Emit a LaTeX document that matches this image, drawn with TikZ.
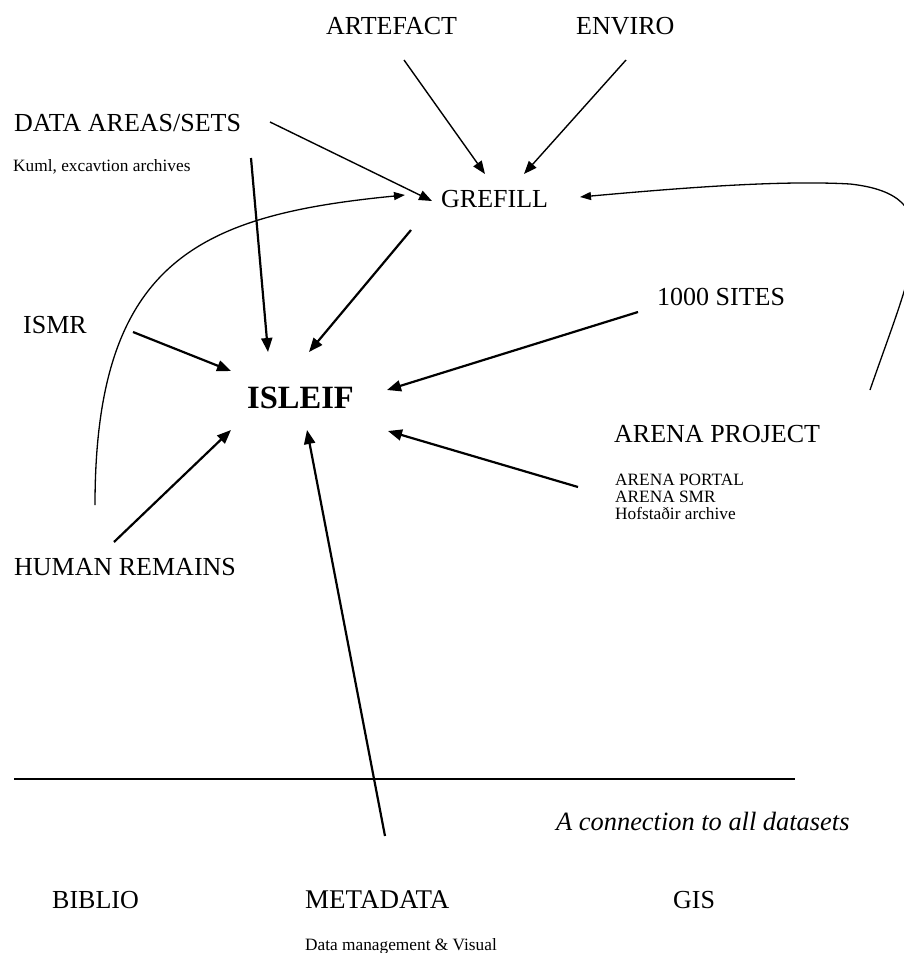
\documentclass[tikz,border=0pt]{standalone}
\usepackage{fontspec}
\setmainfont{Liberation Serif}
\usetikzlibrary{arrows.meta}
\tikzset{
  lbl/.style={inner sep=0pt, anchor=base west, font=\fontsize{26}{30}\selectfont},
  sml/.style={inner sep=0pt, anchor=base west, font=\fontsize{17.3}{19}\selectfont},
  bigarr/.style={line width=2.2pt, -{Triangle[length=14pt,width=11pt]}},
  midarr/.style={line width=1.4pt, -{Triangle[length=13pt,width=10pt]}},
  curvearr/.style={line width=1.3pt, -{Triangle[length=11pt,width=8pt]}}
}
\begin{document}
\begin{tikzpicture}[x=1pt,y=-1pt]
\useasboundingbox (0,0) rectangle (904,953);
% labels
\node[lbl] (artefact) at (326,34) {ARTEFACT};
\node[lbl] (enviro) at (576,34) {ENVIRO};
\node[lbl] (data) at (14,131) {DATA AREAS/SETS};
\node[sml] (kuml) at (13,171) {Kuml, excavtion archives};
\node[lbl] (grefill) at (441,207) {GREFILL};
\node[lbl] (sites) at (657,305) {1000 SITES};
\node[lbl] (ismr) at (23,333) {ISMR};
\node[inner sep=0pt, anchor=base west, font=\fontsize{32.5}{36}\selectfont\bfseries] (isleif) at (247,408) {ISLEIF};
\node[lbl] (arena) at (614,442) {ARENA PROJECT};
\node[sml] (portal) at (615,485) {ARENA PORTAL};
\node[sml] (asmr) at (615,502) {ARENA SMR};
\node[sml] (hof) at (615,519) {Hofstaðir archive};
\node[lbl] (human) at (14,575) {HUMAN REMAINS};
\node[lbl, font=\fontsize{26.4}{30}\selectfont\itshape] (conn) at (556,830) {A connection to all datasets};
\node[lbl] (biblio) at (52,908) {BIBLIO};
\node[lbl, font=\fontsize{27}{30}\selectfont] (meta) at (305,908) {METADATA};
\node[lbl] (gis) at (673,908) {GIS};
\node[sml] (dm) at (305,950) {Data management \& Visual};
% separator line
\coordinate (lineL) at (14,779);
\coordinate (lineR) at (795,779);
\draw[line width=1.3pt] (lineL) -- (lineR);
% arrow end points
\coordinate (dataE) at (270,122);
\coordinate (grefW) at (432,201);
\coordinate (artS) at (404,60);
\coordinate (grefNW) at (485,174);
\coordinate (envS) at (626,60);
\coordinate (grefNE) at (524,174);
\coordinate (dataS) at (251,158);
\coordinate (isleifN) at (268,352);
\coordinate (grefSW) at (411,230);
\coordinate (isleifNE) at (309,352);
\coordinate (ismrE) at (133,332);
\coordinate (isleifW) at (231,371);
\coordinate (humanN) at (114,542);
\coordinate (isleifSW) at (231,430);
\coordinate (metaN) at (385,836);
\coordinate (isleifS) at (307,430);
\coordinate (sitesW) at (638,312);
\coordinate (isleifE) at (387,390);
\coordinate (arenaW) at (578,487);
\coordinate (isleifSE) at (388,431);
\coordinate (curveL) at (95,505);
\coordinate (grefWW) at (405,195);
\coordinate (curveR) at (870,390);
\coordinate (grefE) at (580,197);
% arrows to GREFILL
\draw[midarr] (dataE) -- (grefW);
\draw[midarr] (artS) -- (grefNW);
\draw[midarr] (envS) -- (grefNE);
% arrows to ISLEIF
\draw[bigarr] (dataS) -- (isleifN);
\draw[bigarr] (grefSW) -- (isleifNE);
\draw[bigarr] (ismrE) -- (isleifW);
\draw[bigarr] (humanN) -- (isleifSW);
\draw[bigarr] (metaN) -- (isleifS);
\draw[bigarr] (sitesW) -- (isleifE);
\draw[bigarr] (arenaW) -- (isleifSE);
% curves
\draw[curvearr] (curveL) .. controls (95,260) and (200,215) .. (grefWW);
\begin{scope}
\clip (0,0) rectangle (904,953);
\draw[curvearr] (curveR) .. controls (915,260) and (950,195) .. (850,184) .. controls (780,180) and (680,188) .. (grefE);
\end{scope}
\end{tikzpicture}
\end{document}
